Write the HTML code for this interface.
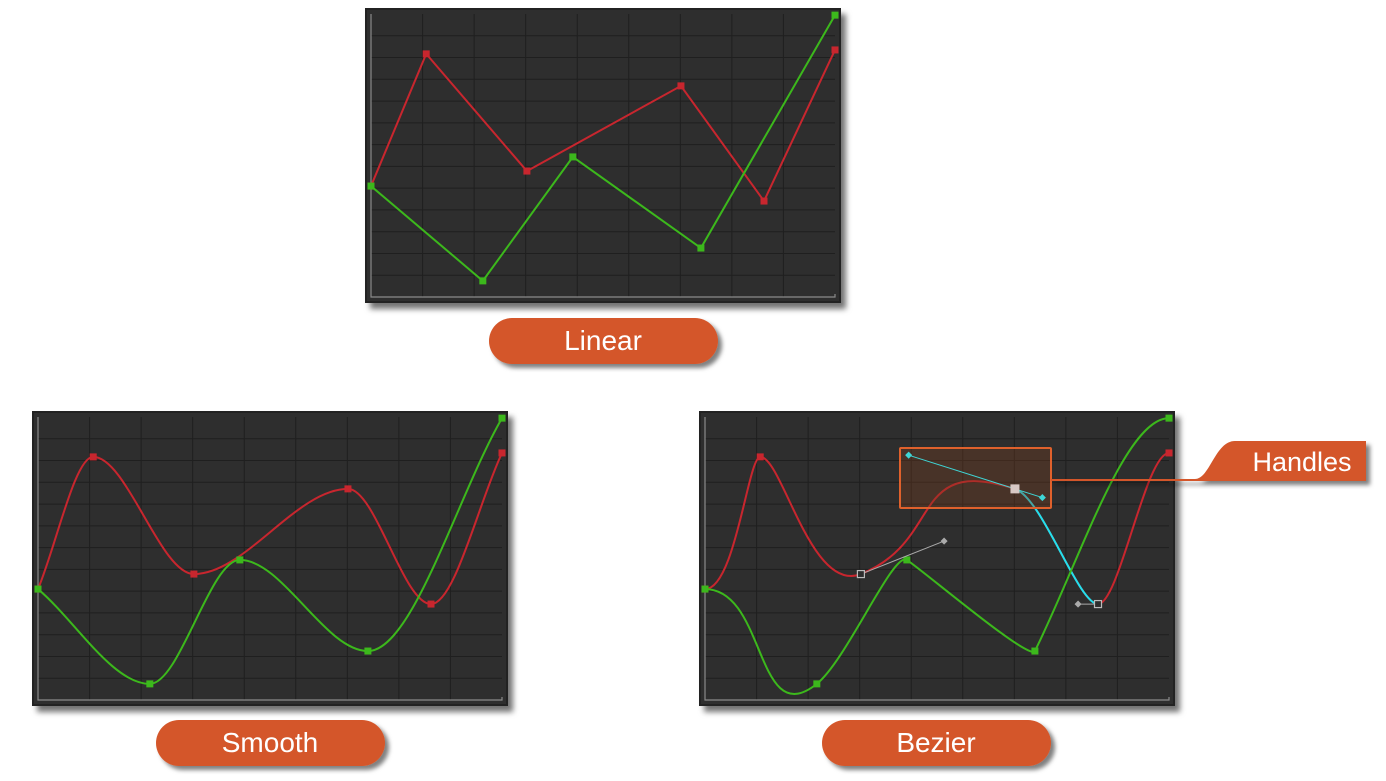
<!DOCTYPE html>
<html><head><meta charset="utf-8"><style>
html,body{margin:0;padding:0;background:#fff;width:1386px;height:781px;overflow:hidden}
svg{display:block}
text{font-family:"Liberation Sans","DejaVu Sans",sans-serif}
</style></head><body>
<svg id="s" width="1386" height="781" viewBox="0 0 1386 781">
<defs>
<filter id="sh" x="-10%" y="-10%" width="130%" height="130%"><feDropShadow dx="5" dy="6" stdDeviation="3" flood-color="#000" flood-opacity="0.55"/></filter>
<filter id="sh2" x="-10%" y="-20%" width="130%" height="160%"><feDropShadow dx="4" dy="4" stdDeviation="2" flood-color="#000" flood-opacity="0.5"/></filter>
</defs>
</svg>
<script>
const redX=[0,11.9,33.6,66.8,84.7,100];
const redY=[39.2,85.9,44.5,74.6,33.9,87.3];
const greenX=[0,24.1,43.5,71.1,100];
const greenY=[39.2,5.7,49.5,17.3,99.6];
const bezRedSlope=[0,0,0.65,-0.52,0,0];
const bezRedIn=[0.33,0.22,0.5,0.69,0.24,0.33];
const bezRedOut=[0.55,0.22,0.54,0.33,0.3,0.33];
const bezGreenSlope=[0,1.3,-1.1,3.3,0];
const bezGreenIn=[0.33,0.55,0.15,0.04,0.33];
const bezGreenOut=[0.55,0.33,0.15,0.33,0.33];
const labels=["Linear","Smooth","Bezier"];

const NS="http://www.w3.org/2000/svg";
const svg=document.getElementById('s');
function mk(tag,attrs,parent){const e=document.createElementNS(NS,tag);for(const k in attrs)e.setAttribute(k,attrs[k]);(parent||svg).appendChild(e);return e;}
const panels=[{dx:0,dy:0,mode:'linear'},{dx:-333,dy:403,mode:'smooth'},{dx:334,dy:403,mode:'bezier'}];
const RED="#c8262e",GREEN="#3cb81c";

function smoothSlopes(X,Y){return X.map((x,i)=>{if(i===0)return (Y[1]-Y[0])/(X[1]-X[0]);if(i===X.length-1)return (Y[i]-Y[i-1])/(X[i]-X[i-1]);return 0;});}
function bezPath(X,Y,S,IN,OUT,sx,sy,from,to){
  let d="M"+sx(X[from])+","+sy(Y[from]);
  for(let i=from;i<to;i++){const dx=X[i+1]-X[i];
    const c1x=X[i]+OUT[i]*dx,c1y=Y[i]+S[i]*OUT[i]*dx;
    const c2x=X[i+1]-IN[i+1]*dx,c2y=Y[i+1]-S[i+1]*IN[i+1]*dx;
    d+=" C"+sx(c1x)+","+sy(c1y)+" "+sx(c2x)+","+sy(c2y)+" "+sx(X[i+1])+","+sy(Y[i+1]);}
  return d;}

panels.forEach((p,pi)=>{
  const g=mk('g',{});
  
  
  const L=371+p.dx,T=14+p.dy,W=464,H=283;
  const sx=v=>L+v/100*W, sy=v=>T+H-v/100*H;
  const bg=mk('rect',{x:L-5,y:T-5,width:W+10,height:H+10,fill:"#2d2d2d",stroke:"#222","stroke-width":2,filter:"url(#sh)"},g);
  
  
  for(let c=1;c<9;c++){const l=mk('line',{x1:L+c*W/9,y1:T,x2:L+c*W/9,y2:T+H,stroke:"#1f1f1f","stroke-width":1},g);}
  for(let r=1;r<13;r++){const l=mk('line',{x1:L,y1:T+r*H/13,x2:L+W,y2:T+r*H/13,stroke:"#1f1f1f","stroke-width":1},g);}
  const ax=mk('path',{d:`M${L},${T}V${T+H}H${L+W}v-3`,fill:"none",stroke:"#8a8a8a","stroke-width":1.2},g);
  
  const series=[{X:redX,Y:redY,c:RED,n:'red',S:bezRedSlope,I:bezRedIn,O:bezRedOut},{X:greenX,Y:greenY,c:GREEN,n:'green',S:bezGreenSlope,I:bezGreenIn,O:bezGreenOut}];
  series.forEach(s=>{
    let d;
    if(p.mode==='linear'){d=s.X.map((x,i)=>(i?"L":"M")+sx(x)+","+sy(s.Y[i])).join(" ");}
    else if(p.mode==='smooth'){const S=smoothSlopes(s.X,s.Y);const f=s.X.map(()=>1/3);d=bezPath(s.X,s.Y,S,f,f,sx,sy,0,s.X.length-1);}
    else{d=bezPath(s.X,s.Y,s.S,s.I,s.O,sx,sy,0,s.X.length-1);}
    const path=mk('path',{d,fill:"none",stroke:s.c,"stroke-width":2},g);
    
    if(p.mode==='bezier'&&s.n==='red'){
      const cy=mk('path',{d:bezPath(s.X,s.Y,s.S,s.I,s.O,sx,sy,3,4),fill:"none",stroke:"#22e0ee","stroke-width":2},g);
      
    }
    s.X.forEach((x,i)=>{
      if(p.mode==='bezier'&&s.n==='red'&&(i===2||i===3||i===4))return;
      const k=mk('rect',{x:sx(x)-3.5,y:sy(s.Y[i])-3.5,width:7,height:7,fill:s.c},g);
      
    });
  });
  if(p.mode==='bezier'){
    const X=redX,Y=redY,S=bezRedSlope,I=bezRedIn,O=bezRedOut;
    const hp=(i,dir,f)=>{const dx=(dir>0?X[i+1]-X[i]:X[i]-X[i-1])*f*dir;return [sx(X[i]+dx),sy(Y[i]+S[i]*dx)];};
    const hb=mk('rect',{x:900,y:448,width:151,height:60,fill:"rgba(120,60,30,0.35)",stroke:"#e0612c","stroke-width":2,rx:1},g);
    
    function handle(i,dir,f,col,name){const k=[sx(X[i]),sy(Y[i])],h=hp(i,dir,f);
      const l=mk('line',{x1:k[0],y1:k[1],x2:h[0],y2:h[1],stroke:col,"stroke-width":1},g);
      const dm=mk('rect',{x:h[0]-2.5,y:h[1]-2.5,width:5,height:5,fill:col,transform:`rotate(45 ${h[0]} ${h[1]})`},g);}
    handle(2,1,0.54,"#aaa",'handle-key2-out');
    handle(3,-1,I[3],"#3fd6d6",'handle-key3-in');
    handle(3,1,O[3],"#3fd6d6",'handle-key3-out');
    handle(4,-1,I[4],"#aaa",'handle-key4-in');
    [2,4].forEach(i=>{const k=mk('rect',{x:sx(X[i])-3.5,y:sy(Y[i])-3.5,width:7,height:7,fill:"#2d2d2d",stroke:"#bbb","stroke-width":1.2},g);});
    const k3=mk('rect',{x:sx(X[3])-4.5,y:sy(Y[3])-4.5,width:9,height:9,fill:"#d8c8c4"},g);
  }
});
[[489,318],[156,720],[822,720]].forEach((pos,i)=>{
  const g=mk('g',{filter:"url(#sh2)"});
  
  mk('rect',{x:pos[0],y:pos[1],width:229,height:46,rx:23,fill:"#d4572a"},g);
  const t=mk('text',{x:pos[0]+114,y:pos[1]+32,"text-anchor":"middle","font-size":28,fill:"#fff"},g);t.textContent=labels[i];
});
const cg=mk('g',{filter:"url(#sh2)"});

mk('path',{d:"M1051,479 H1195 C1210,479 1215,441 1235,441 H1366 V481 H1051 Z",fill:"#d4572a"},cg);
const ht=mk('text',{x:1302,y:471,"text-anchor":"middle","font-size":27,fill:"#fff"},cg);ht.textContent="Handles";
</script>
</body></html>
